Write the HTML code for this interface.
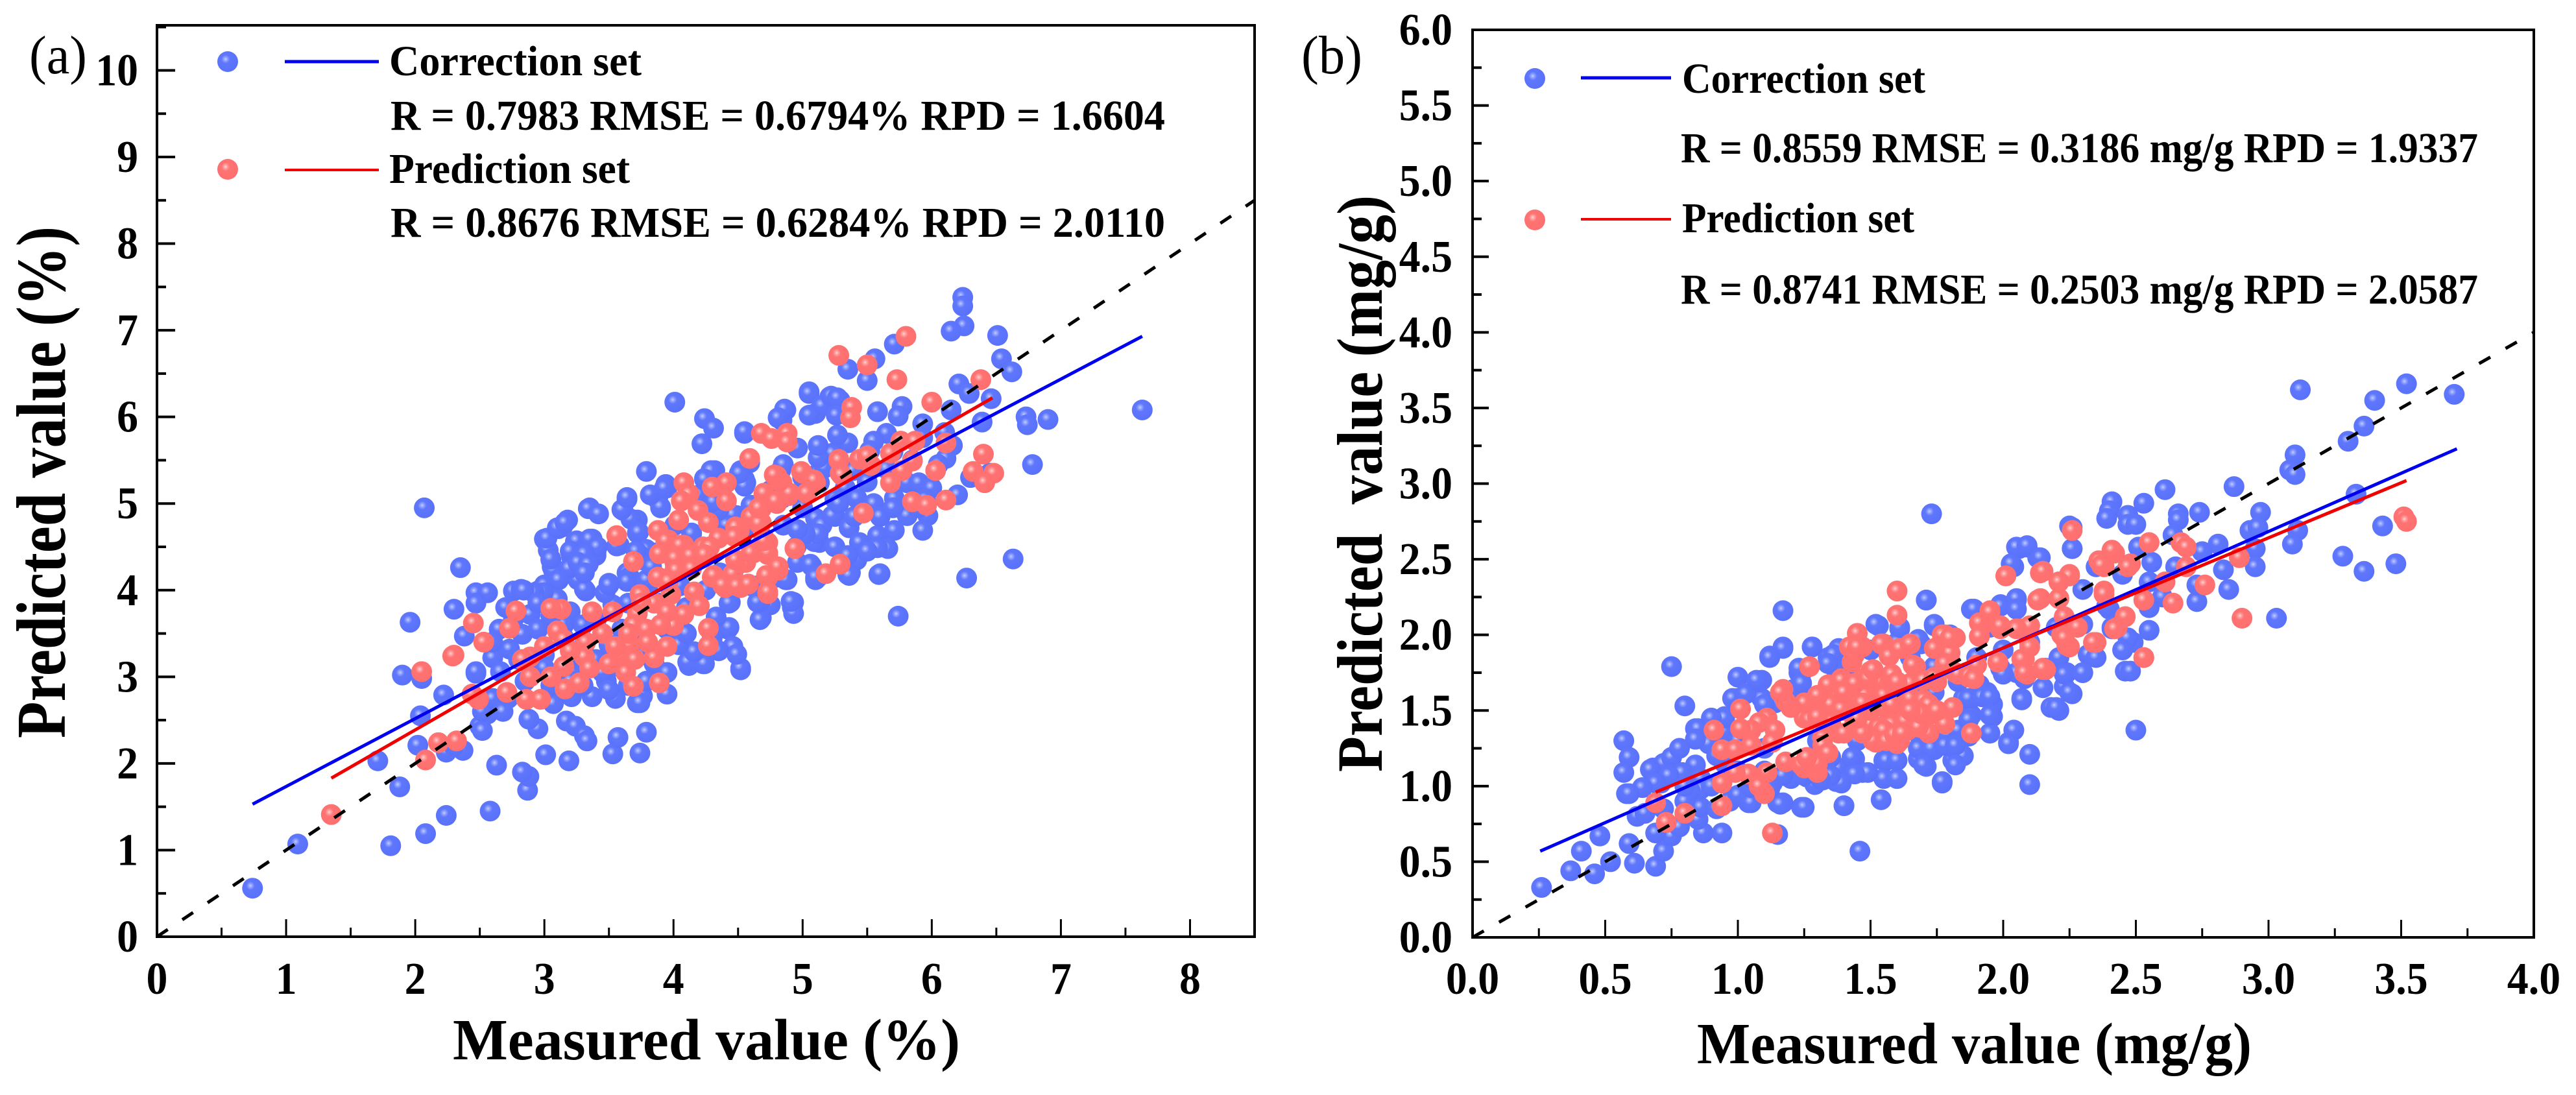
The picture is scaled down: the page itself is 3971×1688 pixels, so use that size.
<!DOCTYPE html>
<html lang="en">
<head>
<meta charset="utf-8">
<title>Measured vs predicted scatter plots</title>
<style>
html,body{margin:0;padding:0;background:#fff;width:3971px;height:1688px;overflow:hidden}
svg{display:block}
text{font-family:"Liberation Serif",serif;fill:#000}
.bold{font-weight:bold}
</style>
</head>
<body>
<svg id="figure" xmlns="http://www.w3.org/2000/svg" width="3971" height="1688" viewBox="0 0 3971 1688">
<defs>
<radialGradient id="blueBall" cx="0.40" cy="0.38" r="0.6">
<stop offset="0" stop-color="#c3ceff"/><stop offset="0.14" stop-color="#93a4ff"/><stop offset="0.34" stop-color="#5f77fc"/><stop offset="1" stop-color="#5a72fb"/>
</radialGradient>
<radialGradient id="redBall" cx="0.40" cy="0.38" r="0.6">
<stop offset="0" stop-color="#ffd6d6"/><stop offset="0.14" stop-color="#ffa2a2"/><stop offset="0.34" stop-color="#ff7373"/><stop offset="1" stop-color="#ff6f6f"/>
</radialGradient>
</defs>
<rect x="0" y="0" width="3971" height="1688" fill="#fff"/>

<g id="panelA"></g>
<g id="panelB"></g>

<text x="45" y="113" font-size="84" textLength="89" lengthAdjust="spacingAndGlyphs">(a)</text>
<text class="bold" x="698" y="1633" font-size="90" textLength="782" lengthAdjust="spacingAndGlyphs">Measured value (%)</text>
<text class="bold" transform="translate(100,1138) rotate(-90)" font-size="108" textLength="789" lengthAdjust="spacingAndGlyphs">Predicted value (%)</text>
<circle cx="351" cy="95" r="16" fill="url(#blueBall)"/>
<line x1="439" y1="95" x2="584" y2="95" stroke="#0000f0" stroke-width="5"/>
<text class="bold" x="600" y="116" font-size="66" textLength="389" lengthAdjust="spacingAndGlyphs">Correction set</text>
<text class="bold" x="602" y="200" font-size="66" textLength="1194" lengthAdjust="spacingAndGlyphs">R = 0.7983 RMSE = 0.6794% RPD = 1.6604</text>
<circle cx="351" cy="261" r="16" fill="url(#redBall)"/>
<line x1="439" y1="262" x2="584" y2="262" stroke="#f00000" stroke-width="4"/>
<text class="bold" x="600" y="282" font-size="66" textLength="371" lengthAdjust="spacingAndGlyphs">Prediction set</text>
<text class="bold" x="602" y="365" font-size="66" textLength="1194" lengthAdjust="spacingAndGlyphs">R = 0.8676 RMSE = 0.6284% RPD = 2.0110</text>

<text x="2006" y="113" font-size="84" textLength="94" lengthAdjust="spacingAndGlyphs">(b)</text>
<text class="bold" x="2616" y="1639" font-size="90" textLength="855" lengthAdjust="spacingAndGlyphs">Measured value (mg/g)</text>
<text class="bold" transform="translate(2130,1190) rotate(-90)" font-size="100" textLength="889" lengthAdjust="spacingAndGlyphs" xml:space="preserve">Predicted  value (mg/g)</text>
<circle cx="2366" cy="121" r="16" fill="url(#blueBall)"/>
<line x1="2437" y1="120" x2="2576" y2="120" stroke="#0000f0" stroke-width="5"/>
<text class="bold" x="2593" y="143" font-size="66" textLength="375" lengthAdjust="spacingAndGlyphs">Correction set</text>
<text class="bold" x="2591" y="250" font-size="66" textLength="1229" lengthAdjust="spacingAndGlyphs">R = 0.8559 RMSE = 0.3186 mg/g RPD = 1.9337</text>
<circle cx="2366" cy="339" r="16" fill="url(#redBall)"/>
<line x1="2437" y1="338" x2="2576" y2="338" stroke="#f00000" stroke-width="4"/>
<text class="bold" x="2593" y="358" font-size="66" textLength="358" lengthAdjust="spacingAndGlyphs">Prediction set</text>
<text class="bold" x="2591" y="468" font-size="66" textLength="1229" lengthAdjust="spacingAndGlyphs">R = 0.8741 RMSE = 0.2503 mg/g RPD = 2.0587</text>
</svg>
<script>
// ---- Panel (a) data: [measured %, predicted %]
const correctionA = [
[0.74,0.56],[1.09,1.07],[1.81,1.05],[2.08,1.19],[2.24,1.40],[2.58,1.45],[1.88,1.73],[1.71,2.03],[2.87,1.69],[2.88,1.85],[2.83,1.90],[2.63,1.98],[3.01,2.10],[3.19,2.03],[3.53,2.11],[3.74,2.12],[3.57,2.30],[3.79,2.36],[3.17,2.49],[3.24,2.43],[3.31,2.32],[3.33,2.26],[2.95,2.40],[2.88,2.51],[2.37,2.15],[2.24,2.13],[2.30,2.20],[2.02,2.21],[2.04,2.55],[2.22,2.79],[2.50,2.43],[2.56,2.57],[2.52,2.38],[2.47,3.04],[1.90,3.02],[2.05,2.98],[1.96,3.63],[2.35,4.26],[2.30,3.78],[2.47,3.97],[2.56,3.97],[2.47,3.85],[2.76,3.99],[2.82,4.01],[2.95,3.99],[3.01,4.57],[3.06,4.27],[3.21,4.38],[3.27,4.52],[3.37,4.52],[3.40,4.40],[3.14,4.73],
[6.63,4.36],[6.27,4.14],[5.74,3.70],[4.92,3.80],[4.68,3.68],[4.71,3.85],[4.52,3.08],[4.23,3.15],[4.12,3.13],[4.46,3.34],[4.42,3.55],[5.59,4.18],[5.10,4.12],[5.35,4.18],[3.72,2.70],[3.76,2.78],
[7.63,6.08],[6.24,7.38],[6.24,7.28],[6.25,7.05],[6.15,6.99],[6.51,6.94],[6.54,6.67],[6.62,6.52],[6.21,6.38],[6.29,6.27],[6.46,6.21],[6.73,6.00],[6.90,5.97],[6.74,5.91],[6.78,5.45],[6.39,5.94],[5.71,6.84],[5.56,6.67],[5.35,6.55],[5.50,6.42],[5.05,6.29],[5.21,6.23],[5.29,6.19],[4.87,6.08],[5.10,6.04],[5.58,6.06],[5.77,6.12],[5.74,6.01],[6.15,6.08],[5.93,5.92],[4.01,6.17],[4.24,5.98],[4.31,5.87],[4.22,5.69],[4.55,5.81],[4.84,5.96],[3.79,5.37],[4.31,5.35],[3.94,5.22],[3.64,5.05],[3.88,5.08],[3.35,4.95],[2.07,4.95],[4.55,5.28],
[3.18,4.81],[3.11,4.71],[3.00,4.59],[3.03,4.46],[3.24,4.56],[3.37,4.59],[3.40,4.43],[3.23,4.42],[3.05,4.35],[3.07,4.23],[3.19,4.23],[3.31,4.23],[3.11,4.12],[3.26,4.12],[3.00,4.06],[3.32,3.99],[3.50,4.08],[3.34,4.94],[3.42,4.88],[3.64,5.06],[3.61,4.92],[3.72,4.81],[3.72,4.66],[3.58,4.52],[3.64,4.20],[3.76,4.35],[3.87,5.06],[3.95,5.18],[3.90,4.95],[4.01,4.75],[4.24,5.29],[4.32,5.38],[4.52,5.38],[4.56,5.24],[4.49,4.86],[4.14,4.66],[4.59,5.47],[4.96,5.64],[4.83,5.38],[5.12,5.35],[5.17,5.41],[5.13,5.24],[5.33,5.18],[5.42,5.06],[5.55,5.00],[5.71,5.06],[5.81,5.24],[5.90,5.24],[6.00,5.18],[5.65,5.81],[5.55,5.72],[5.52,5.61],[5.93,5.76],[6.10,5.82],[6.16,5.67],[6.11,5.52],[5.25,4.85],[5.10,4.83],[5.00,4.95],[5.36,4.72],[5.58,4.63],[5.71,4.69],[5.81,4.86],[5.97,4.86],[5.93,4.69],[5.44,4.55],[5.66,4.48],[5.58,4.49],[5.10,4.60],[5.13,4.55],[4.96,4.32],[5.07,4.28],[5.37,4.20],[5.42,4.35],[5.12,4.15],[5.60,4.19],[4.88,4.12],[4.93,3.86],[4.93,3.73],[4.75,3.83],[4.67,3.66],[4.67,3.86],[4.44,3.86],[4.43,3.57],[4.46,3.35],[4.52,3.10],[4.49,3.26],[4.33,3.69],[4.11,3.17],[4.24,3.15],[4.16,3.29],[4.04,3.37],[3.79,2.95],[3.74,2.70],[3.48,2.95],[3.37,2.77],[3.21,2.77],[3.07,2.69],[2.52,2.60],[2.89,3.72],[2.76,3.66],[2.73,3.32],[2.83,3.49],[2.38,3.47],[2.60,3.22],[2.47,3.06],[2.66,3.06],[3.31,3.37],[3.50,3.37],[3.69,3.37],[3.76,3.55],[3.53,3.83],[3.66,4.15],[3.47,3.97],[3.85,4.43],[4.36,4.20],[4.54,4.66],[4.84,5.06],[5.23,5.58],[5.39,5.38],
[3.10,3.90],[3.20,3.75],[3.30,3.60],[3.15,3.60],[2.95,3.55],[3.00,3.25],[2.90,3.05],[3.05,2.90],[3.22,3.05],[3.40,3.20],[3.60,3.10],[3.85,3.15],[3.95,3.55],[4.10,3.80],[4.05,4.05],[4.25,4.00],[3.90,3.85],[3.80,4.05],[3.65,3.85],[4.50,4.30],[4.70,4.60],[4.85,4.75],[4.60,4.95],[4.35,4.90],[4.20,5.10],[4.75,5.15],[5.25,5.05],[5.50,5.25],[5.65,5.40],[5.85,5.50],[5.40,4.85],[5.60,4.85],[5.25,4.50],[5.15,4.75],[4.95,4.50],[4.80,4.15],[4.60,4.05],[5.00,5.30],[5.35,5.70],[5.70,5.60],[6.05,5.45],[6.30,5.30],[6.45,5.35],[6.20,5.10],[5.95,5.05],[2.65,3.55],[2.60,3.40],[2.85,2.95],[2.72,2.75],[2.60,2.75],[2.68,2.60],[3.30,2.90],[3.55,2.75],[3.65,2.90],
[5.12,5.53],[5.12,5.67],[5.27,5.79],[5.05,6.27],[5.15,6.13],[5.22,6.24],[5.27,6.22],[5.26,6.02],[5.05,6.02],[4.86,6.09],[4.81,5.99],[4.55,5.83],[4.85,5.45],[4.55,5.20],[4.51,5.35],[4.29,5.38],[4.24,5.28],[4.60,4.98],[4.46,4.87],[4.41,4.75],[4.14,4.65],[4.35,4.92],[4.31,5.02],[5.06,4.30],[5.09,4.56],[5.12,4.65],[5.02,4.65],[4.96,4.70],[5.23,4.86],[5.28,5.00],[5.35,4.40],[5.36,4.17],[5.10,4.15],[4.87,4.12],[4.65,4.05],[4.65,3.86],[4.91,3.87],[4.43,3.85],
[3.67,4.82],[3.73,4.67],[3.60,4.93],[3.90,4.96],[3.82,5.10],[3.93,5.18],[3.64,5.07],[3.79,4.47],[3.74,4.40],[3.64,4.10],[3.79,4.12],[3.50,4.06],[3.31,4.01],[3.19,4.25],[3.11,4.12],[3.05,4.36],[3.02,4.60],[3.10,4.72],[3.16,4.78],[3.25,4.57],[3.35,4.59],[3.41,4.50],[3.20,4.45],[3.31,4.42],[3.26,4.32],[3.34,4.30],[3.31,4.20],[2.99,3.97],[2.92,3.97],[2.84,4.00],[3.56,4.51],[3.71,4.45],[3.83,4.27],
[3.15,3.45],[3.25,3.25],[3.45,3.05],[3.50,2.85],[3.20,2.95],[3.00,3.10],[2.80,3.20],[2.95,3.85],[2.70,3.80],[3.05,3.70],[3.40,3.65],[3.60,3.55],[3.75,3.25],[3.95,3.05],[4.10,3.50],[4.30,3.45],[4.35,3.30],[3.95,2.80],[5.50,4.45],[5.70,4.95],[5.90,4.95]
];
const predictionA = [
[5.80,6.93],[5.28,6.71],[5.50,6.60],[5.73,6.43],[6.38,6.43],[6.00,6.17],[5.38,6.11],[5.37,5.99],[4.68,5.81],[4.76,5.75],[4.88,5.81],[4.88,5.71],[4.59,5.52],[6.11,5.70],[6.40,5.57],[6.32,5.37],[6.48,5.35],[6.41,5.24],[6.03,5.38],[5.76,5.72],[5.87,5.72],[5.68,5.58],[5.85,5.49],[5.77,5.38],[5.68,5.24],[5.28,5.51],[5.44,5.51],[5.53,5.44],[5.29,5.35],[5.85,5.02],[5.96,4.98],[6.11,5.04],[5.47,4.89],[4.80,5.32],[5.00,5.35],[5.10,5.24],[4.84,5.24],[4.89,5.09],[4.70,5.11],[4.80,5.00],[4.68,4.94],[4.60,4.83],[4.68,4.78],[4.51,4.69],[4.41,5.24],[4.30,5.19],[4.41,5.03],[4.08,5.24],[4.12,5.11],[4.06,5.03],[4.19,4.92],[4.27,4.78],[4.04,4.81],[3.88,4.69],[3.56,4.63],[3.96,4.58],[4.08,4.52],[3.92,4.43],[4.27,4.49],[4.24,4.40],[3.69,4.33],[4.01,4.32],[4.11,4.29],[3.88,4.15],[4.01,4.23],[4.94,4.48],[4.73,4.55],[4.62,4.43],[4.73,4.41],[4.81,4.23],[4.56,4.32],[4.46,4.18],[4.73,4.15],[4.40,4.03],[4.52,4.03],[4.73,3.96],[5.18,4.19],[5.29,4.30],[3.98,3.95],[4.16,3.98],[4.20,3.82],[4.08,3.72],[4.00,3.59],[4.27,3.56],[4.27,3.36],[3.74,3.95],[3.37,3.75],[3.13,3.78],[3.05,3.79],[2.78,3.76],[2.45,3.62],[2.73,3.56],[2.53,3.40],[2.30,3.25],[2.05,3.06],[3.10,3.53],[3.15,3.43],[3.53,3.75],[3.72,3.73],[3.69,3.60],[3.79,3.55],[3.32,3.40],[3.59,3.25],[3.66,3.37],[3.95,3.35],[3.85,3.22],[3.15,3.12],[3.31,3.23],[2.89,3.23],[2.83,3.20],[2.89,3.00],[3.63,3.05],[3.69,2.89],[3.89,2.93],[3.27,2.93],[3.16,2.86],[2.71,2.82],[2.86,2.74],[2.97,2.74],[2.49,2.74],[2.44,2.80],[1.35,1.41],[2.08,2.04],[2.18,2.24],[2.32,2.26],[2.29,3.24],[3.85,3.85],[3.95,3.75],[4.30,4.15],[4.35,4.60],[5.50,5.55],
[3.94,4.57],[4.05,4.52],[3.89,4.42],[4.01,4.37],[4.13,4.40],[4.02,4.23],[3.88,4.15],[3.96,4.10],[4.23,4.50],[4.28,4.50],[4.24,4.41],[4.14,4.25],[4.31,4.17],[4.60,4.43],[4.73,4.43],[4.70,4.57],[4.46,4.19],[4.38,4.06],[4.49,4.05],[4.58,4.07],[4.72,4.17],[4.81,4.27],[4.73,3.98],[4.48,4.35],[4.48,4.73],[4.47,4.62],[4.60,4.85],[4.66,4.77],[4.70,5.12],[4.79,5.03],[4.90,5.12],[4.82,5.26],[4.78,5.33],[4.99,5.37],[5.09,5.27],[5.28,5.50],[5.30,5.33],[5.03,5.12],[4.66,4.95],
[3.20,3.30],[3.35,3.10],[3.45,3.50],[3.55,3.35],[3.50,3.15],[3.70,3.20],[3.80,3.40],[3.90,3.60],[3.75,3.85],[3.05,3.00],[3.00,3.35],[3.65,3.50]
];
const lineCorrectionXA = [0.74,7.63];
const lineCorrectionYA = [1.53,6.93];
const linePredictionXA = [1.35,6.47];
const linePredictionYA = [1.83,6.22];
const refLineXA = [0,8.5];
const refLineYA = [0,8.5];
const xTickLabelsA = ['0','1','2','3','4','5','6','7','8'];
const yTickLabelsA = ['0','1','2','3','4','5','6','7','8','9','10'];

// ---- Panel (b) data: [measured mg/g, predicted mg/g]
const correctionB = [
[3.12,3.62],[3.52,3.66],[3.70,3.59],[3.40,3.55],[3.36,3.38],[3.30,3.28],[3.10,3.19],[3.08,3.09],[3.10,3.06],[2.87,2.98],[2.61,2.96],[2.53,2.87],[2.41,2.88],[2.40,2.82],[1.73,2.80],[2.97,2.81],[2.74,2.81],[2.66,2.80],[3.33,2.93],[2.47,2.79],[2.25,2.72],
[0.26,0.33],[0.37,0.44],[0.41,0.57],[0.46,0.42],[0.52,0.50],[0.48,0.67],[0.61,0.49],[0.59,0.62],[0.69,0.47],[0.72,0.57],[0.75,0.67],[0.69,0.69],[1.46,0.57],[2.10,1.01],[2.10,1.21],[2.50,1.37],[3.03,2.11],[1.17,2.16],[0.75,1.79],[0.80,1.53],[0.57,1.30],[0.59,1.19],[0.57,1.09],[0.58,0.95],[0.62,0.80],[0.68,1.12],[0.75,1.19],[0.72,1.15],[0.71,1.02],[0.84,1.14],[0.84,1.31],[0.84,1.38],[0.89,1.28],[0.95,1.46],[0.95,1.36],[1.00,1.72],[1.09,1.70],[1.00,1.58],[1.09,1.58],[1.12,1.86],[1.17,1.92],[1.28,1.92],[1.23,1.75],[1.23,1.63],[1.37,1.84],[1.53,2.06],[1.61,2.04],[1.71,2.23],[1.74,2.06],[1.69,1.94],[1.88,2.17],[1.99,2.20],[2.05,2.23],[2.06,2.57],[2.09,2.58],[2.04,2.45],[2.13,2.51],[2.26,2.57],[2.39,2.77],[2.47,2.73],[2.50,2.73],[2.66,2.76],[2.51,2.58],[2.56,2.48],[2.81,2.60],[2.64,2.66],[2.93,2.69],[2.96,2.71],[3.11,2.69],[3.09,2.60],[2.95,2.57],[3.28,2.52],[3.36,2.42],[3.48,2.47],[3.43,2.72],[2.83,2.43],[2.73,2.22],[2.73,2.33],[2.55,2.18],[2.55,2.03],[2.49,1.95],[2.46,1.76],[2.48,1.76],[2.41,2.04],[2.40,2.17],[2.30,1.75],[2.32,1.87],[2.24,1.75],[2.26,1.61],[2.23,1.66],[2.18,1.52],[2.21,1.50],[2.07,1.58],[2.04,1.37],[2.02,1.29],[1.96,1.46],[1.95,1.58],[1.87,1.33],[1.77,1.02],[1.81,1.17],[1.71,1.13],[1.74,1.24],[1.83,1.27],[1.69,1.31],[1.54,0.91],[1.40,0.87],[1.24,0.86],[1.17,0.89],[1.60,1.17],[1.55,1.17],[1.47,1.09],[1.37,1.03],[1.31,1.04],[1.26,1.06],[1.15,0.68],[0.94,0.69],[0.87,0.69],[1.04,0.89],[0.97,0.90],[0.84,0.80],[0.78,0.73],
[0.85,0.78],[0.86,0.86],[0.65,0.82],[0.75,1.19],[0.67,1.11],[0.79,1.09],[0.74,1.07],[0.69,1.02],[0.64,0.99],[0.59,0.95],[0.86,1.05],[0.86,0.98],[0.82,0.97],[0.85,1.38],[0.84,1.31],[0.95,1.45],[1.08,1.69],[0.98,1.58],[1.03,1.61],[1.14,1.55],[1.24,1.75],[1.24,1.68],[1.34,1.85],[1.38,1.91],[1.21,1.64],[1.00,0.94],[1.05,0.89],[1.15,0.89],[1.05,0.99],[1.13,1.02],[1.32,1.04],[1.29,1.01],[1.38,1.12],[1.44,1.18],[1.35,1.19],[1.68,1.18],[1.75,1.29],[1.77,1.27],[1.82,1.24],[1.79,1.34],[1.70,1.29],[1.83,1.37],[1.88,1.47],[1.96,1.54],[1.94,1.62],[1.88,1.58],[1.85,1.58],[1.91,1.67],[1.83,1.69],[1.99,1.78],[2.08,1.71],[2.16,1.78],[2.21,1.85],[2.39,2.19],[2.30,2.07],[2.41,2.05],[2.47,1.98],
[1.50,1.90],[1.65,1.85],[1.75,1.75],[1.40,1.75],[1.30,1.55],[1.50,1.55],[1.65,1.45],[1.45,1.30],[1.30,1.30],[1.10,1.25],[1.00,1.30],[0.95,1.15],[1.10,1.10],[1.20,1.05],[0.90,1.00],[0.80,0.90],[0.72,0.85],[1.55,1.05],[1.95,1.35],[2.05,1.75],[2.10,1.95],[2.20,2.05],[2.30,2.30],[2.35,2.45],[2.55,2.35],[2.60,2.25],[2.65,2.45],[2.45,2.40],[2.85,2.30],[2.95,2.45],[2.75,2.55],[1.90,1.85],[1.80,2.00],[1.95,2.05],[1.60,1.95],[1.85,1.20],[1.60,1.05],[1.70,1.60],[2.00,1.90],[2.15,1.65],[2.35,1.85],[2.45,1.90],[0.95,1.25],[1.00,1.10],
[1.68,1.25],[1.73,1.25],[1.78,1.27],[1.82,1.27],[1.70,1.14],[1.82,1.14],[1.77,1.03],[1.87,1.58],[1.92,1.59],[1.95,1.59],[1.95,1.47],[1.87,1.44],[2.00,1.74],[2.07,1.57],[2.20,1.52],[2.25,1.62],[2.23,1.74],[2.30,1.75],[2.04,1.37],[2.02,1.28],[1.56,1.17],[1.60,1.17],[1.49,1.09],[1.43,1.19],[1.44,1.08],[1.39,1.02],[1.35,1.07],[1.31,1.05],[1.25,1.07],[1.17,1.07],[1.16,0.88],[1.25,0.86],[1.40,0.87],[2.05,2.58],[2.09,2.59],[2.14,2.51],[2.03,2.47],[2.26,2.57],[2.26,2.71],[1.89,2.17],[1.99,2.19],[2.05,2.24],[2.05,2.17],[1.74,2.07],[1.71,2.23],[1.61,2.05],[1.52,2.07],[1.28,1.92],[1.17,1.91],[1.12,1.85],[1.23,1.78],[1.24,1.68],[1.07,1.70],[1.10,1.54],[1.36,1.87],[1.37,1.77],[1.34,1.81],[1.68,1.97],[1.74,1.79],[1.74,1.62],
[0.90,1.45],[0.92,1.20],[0.78,1.25],[0.80,1.00],[0.92,0.85],[1.05,1.05],[1.12,0.98]
];
const predictionB = [
[1.60,2.29],[1.60,2.13],[2.01,2.39],[2.15,2.42],[2.25,2.40],[2.21,2.35],[2.36,2.49],[2.38,2.45],[2.48,2.47],[2.42,2.54],[2.38,2.29],[2.21,2.24],[2.14,2.24],[1.95,2.16],[1.92,2.06],[1.91,1.99],[1.99,2.04],[2.07,2.04],[2.10,2.06],[2.23,2.12],[2.28,2.05],[2.22,2.00],[2.25,1.92],[2.35,1.95],[2.46,2.12],[2.43,2.05],[2.53,1.85],[1.45,2.01],[1.42,1.92],[1.47,1.92],[1.43,1.82],[1.55,1.94],[1.65,1.94],[1.62,1.91],[1.57,1.86],[1.67,1.79],[1.78,2.00],[1.82,1.98],[1.75,1.91],[1.80,1.88],[1.78,1.81],[1.27,1.79],[1.17,1.64],[1.20,1.52],[1.25,1.55],[1.39,1.71],[1.34,1.65],[1.50,1.76],[1.47,1.71],[1.44,1.64],[1.60,1.69],[1.53,1.69],[1.59,1.64],[1.44,1.58],[1.38,1.64],[1.98,1.82],[2.08,1.84],[2.09,1.74],[2.16,1.77],[1.87,1.72],[1.82,1.75],[1.75,1.69],[1.81,1.52],[1.78,1.41],[1.88,1.35],[1.71,1.55],[1.65,1.58],[1.58,1.52],[1.30,1.45],[1.25,1.45],[1.01,1.51],[1.11,1.45],[1.08,1.42],[1.14,1.37],[1.05,1.37],[1.01,1.38],[0.91,1.37],[0.94,1.24],[0.99,1.24],[1.05,1.27],[1.13,1.29],[1.34,1.22],[1.27,1.18],[1.25,1.12],[1.30,1.09],[1.11,1.09],[1.04,1.08],[0.99,1.09],[0.94,1.02],[1.10,0.95],[0.94,0.87],[0.80,0.82],[0.73,0.76],[0.69,0.89],[1.13,0.69],[1.44,1.41],[1.55,1.37],[1.52,1.29],[1.60,1.28],[1.64,1.37],[1.68,1.44],[1.72,1.47],[1.61,1.44],[1.50,1.41],[1.32,1.32],[1.38,1.35],[1.32,1.27],[1.18,1.16],
[2.26,2.69],[2.41,2.56],[2.55,2.61],[2.67,2.61],[2.69,2.58],[2.37,2.46],[2.47,2.45],[2.89,2.51],[2.76,2.33],[2.64,2.21],[2.61,2.35],[2.53,2.23],[2.90,2.11],[2.53,1.85],[3.51,2.78],[3.52,2.75],[2.69,2.45],[2.01,2.39],[2.14,2.41],[2.25,2.39],[2.46,2.12],[2.42,2.04],[2.34,1.95],[2.24,1.93],[2.15,1.77],[2.38,2.27],
[1.55,1.60],[1.65,1.68],[1.70,1.70],[1.50,1.50],[1.40,1.50],[1.32,1.55],[1.72,1.35],[1.58,1.42],[1.48,1.60],[1.35,1.42],[1.90,1.80],
[1.34,1.67],[1.39,1.70],[1.44,1.68],[1.49,1.71],[1.38,1.59],[1.43,1.58],[1.35,1.54],[1.39,1.51],[1.47,1.55],[1.56,1.51],[1.58,1.54],[1.65,1.58],[1.70,1.57],[1.72,1.54],[1.58,1.41],[1.63,1.43],[1.68,1.39],[1.69,1.48],[1.53,1.39],[1.55,1.37],[1.51,1.30],[1.56,1.30],[1.61,1.30],[1.59,1.34],[1.27,1.44],[1.30,1.46],[1.25,1.55],[1.20,1.52],[1.18,1.56],[1.16,1.62],[1.44,1.87],[1.45,1.92],[1.54,1.94],[1.57,1.86],[1.61,1.91],[1.65,1.94],[1.66,1.80],[1.58,1.74],[1.60,1.69],[1.51,1.77],[1.74,1.72],[1.74,1.91],[1.77,2.00],[1.80,1.98],[1.83,1.74],[1.87,1.73],[1.89,1.71],[1.91,2.08],[1.91,1.99],[1.95,2.15],[1.99,2.06],[2.05,2.04],[1.98,1.82],[2.07,1.84],[2.08,1.75],[2.15,1.78],[2.10,1.92],[2.13,2.23],[2.21,2.24],[2.23,1.98],[2.28,2.05],[2.25,2.39],[2.21,2.35],[2.15,2.42],[2.01,2.39],[1.24,1.14],[1.30,1.15],[1.34,1.22],[1.26,1.19],[1.10,0.95],[1.08,1.00],
[1.40,1.35],[1.47,1.35],[1.65,1.50],[1.75,1.50],[1.62,1.35],[1.45,1.45],[1.40,1.62],[1.30,1.60]
];
const lineCorrectionXB = [0.255,3.71];
const lineCorrectionYB = [0.57,3.23];
const linePredictionXB = [0.69,3.52];
const linePredictionYB = [0.96,3.02];
const refLineXB = [0,4];
const refLineYB = [0,4];
const xTickLabelsB = ['0.0','0.5','1.0','1.5','2.0','2.5','3.0','3.5','4.0'];
const yTickLabelsB = ['0.0','0.5','1.0','1.5','2.0','2.5','3.0','3.5','4.0','4.5','5.0','5.5','6.0'];

const SVGNS = 'http://www.w3.org/2000/svg';

function mk(parent, tag, attrs) {
  const el = document.createElementNS(SVGNS, tag);
  for (const k in attrs) el.setAttribute(k, attrs[k]);
  parent.appendChild(el);
  return el;
}

function drawPanel(root, o) {
  const xs = v => o.left + (v - 0) / o.xMax * (o.right - o.left);
  const ys = v => o.bottom - (v - 0) / o.yMax * (o.bottom - o.top);

  // scatter: correction first, prediction on top
  const gBlue = mk(root, 'g', {});
  
  
  o.blue.forEach(p => {
    const c = mk(gBlue, 'circle', {cx: xs(p[0]), cy: ys(p[1]), r: 16, fill: 'url(#blueBall)'});
    
    
  });
  const gRed = mk(root, 'g', {});
  
  
  o.red.forEach(p => {
    const c = mk(gRed, 'circle', {cx: xs(p[0]), cy: ys(p[1]), r: 16, fill: 'url(#redBall)'});
    
    
  });

  // lines
  const ref = mk(root, 'line', {x1: xs(o.refX[0]), y1: ys(o.refY[0]), x2: xs(o.refX[1]), y2: ys(o.refY[1]), stroke: '#000', 'stroke-width': 5, 'stroke-dasharray': '20 27'});
  
  
  const lb = mk(root, 'line', {x1: xs(o.lcX[0]), y1: ys(o.lcY[0]), x2: xs(o.lcX[1]), y2: ys(o.lcY[1]), stroke: '#0000f0', 'stroke-width': 5});
  
  
  const lr = mk(root, 'line', {x1: xs(o.lpX[0]), y1: ys(o.lpY[0]), x2: xs(o.lpX[1]), y2: ys(o.lpY[1]), stroke: '#f00000', 'stroke-width': 5});
  
  

  // frame
  const frame = mk(root, 'rect', {x: o.left, y: o.top, width: o.right - o.left, height: o.bottom - o.top, fill: 'none', stroke: '#000', 'stroke-width': 4});
  
  

  // x ticks
  for (let v = 0; v <= o.xMax + 1e-6; v += o.xStep / 2) {
    const major = Math.abs(v / o.xStep - Math.round(v / o.xStep)) < 1e-6;
    const t = mk(root, 'line', {x1: xs(v), y1: o.bottom, x2: xs(v), y2: o.bottom - (major ? 27 : 14), stroke: '#000', 'stroke-width': 3});
    
    
  }
  // y ticks
  for (let v = 0; v <= o.yMax + 1e-6; v += o.yStep / 2) {
    const major = Math.abs(v / o.yStep - Math.round(v / o.yStep)) < 1e-6;
    const t = mk(root, 'line', {x1: o.left, y1: ys(v), x2: o.left + (major ? o.majorY : 14), y2: ys(v), stroke: '#000', 'stroke-width': 4});
    
    
  }
  // labels
  const natural = s => { let w = 0; for (const ch of s) w += ch === '.' ? 0.25 : 0.5; return w * 70; };
  o.xLabels.forEach(s => {
    const w = natural(s) * o.labelScale;
    const t = mk(root, 'text', {x: xs(parseFloat(s)) - w / 2, y: 1532, 'font-size': 70, class: 'bold', textLength: w, lengthAdjust: 'spacingAndGlyphs'});
    
    
    t.textContent = s;
  });
  o.yLabels.forEach(s => {
    const w = natural(s) * o.labelScale;
    const t = mk(root, 'text', {x: o.labelRight - w, y: ys(parseFloat(s)) + 23, 'font-size': 70, class: 'bold', textLength: w, lengthAdjust: 'spacingAndGlyphs'});
    
    
    t.textContent = s;
  });
}

drawPanel(document.getElementById('panelA'), {
  left: 242, right: 1934, top: 39, bottom: 1444,
  xMax: 8.5, yMax: 10.52, xStep: 1, yStep: 1, majorY: 28, labelRight: 213, labelScale: 0.94,
  blue: correctionA, red: predictionA,
  refX: refLineXA, refY: refLineYA, lcX: lineCorrectionXA, lcY: lineCorrectionYA, lpX: linePredictionXA, lpY: linePredictionYA,
  xLabels: xTickLabelsA, yLabels: yTickLabelsA
});
drawPanel(document.getElementById('panelB'), {
  left: 2270, right: 3906, top: 46, bottom: 1445,
  xMax: 4, yMax: 6, xStep: 0.5, yStep: 0.5, majorY: 25, labelRight: 2239, labelScale: 0.94,
  blue: correctionB, red: predictionB,
  refX: refLineXB, refY: refLineYB, lcX: lineCorrectionXB, lcY: lineCorrectionYB, lpX: linePredictionXB, lpY: linePredictionYB,
  xLabels: xTickLabelsB, yLabels: yTickLabelsB
});
</script>
</body>
</html>
